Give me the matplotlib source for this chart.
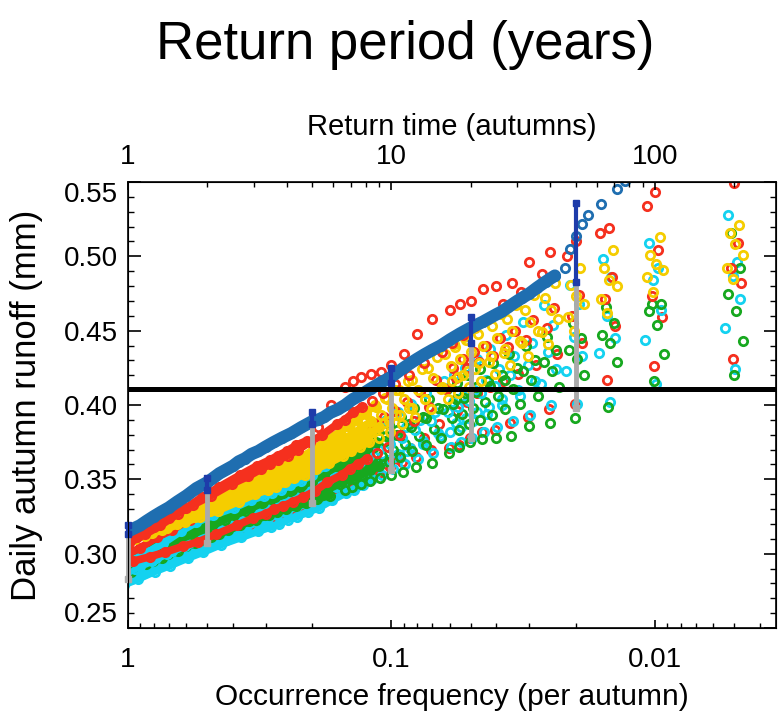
import matplotlib.pyplot as plt
import numpy as np
from matplotlib.ticker import LogLocator, NullFormatter, MultipleLocator

plt.rcParams['font.family'] = ['Liberation Sans', 'DejaVu Sans']

# ranks of the sorted autumn maxima (1 = largest), shared by the coloured runs
rank_grid = [1, 2, 3, 4, 5, 6, 7, 8, 9, 10, 11, 12, 14, 16, 18, 20, 22, 24, 26, 28, 30,
             34, 38, 42, 46, 50, 54, 58, 65, 75, 90, 105, 120, 140, 160, 185, 210]

# runoff values in 1/1000 mm, one list per run
red_runs = [
    [549, 543, 519, 510, 503, 496, 482, 480, 478, 470, 468, 464, 458, 448, 434, 427, 422, 421, 419, 416, 412, 400, 385, 376, 373, 369, 366, 363, 359, 353, 345, 338, 331, 324, 318, 311, 304],
    [565, 534, 516, 500, 488, 476, 468, 458, 453, 447, 442, 436, 428, 420, 414, 408, 403, 399, 395, 390, 387, 380, 375, 370, 366, 363, 360, 357, 352, 347, 339, 333, 327, 319, 313, 307, 301],
    [509, 504, 486, 474, 465, 457, 450, 445, 440, 436, 431, 425, 417, 409, 402, 396, 392, 388, 384, 380, 377, 372, 366, 362, 359, 356, 353, 351, 346, 341, 335, 329, 323, 316, 311, 304, 299],
    [492, 473, 471, 460, 452, 444, 439, 433, 429, 425, 418, 411, 399, 389, 380, 372, 368, 364, 360, 357, 353, 348, 342, 338, 335, 332, 330, 327, 324, 319, 313, 308, 305, 301, 298, 295, 292],
    [482, 459, 453, 442, 434, 427, 421, 416, 412, 408, 402, 396, 387, 378, 371, 364, 360, 356, 353, 350, 347, 341, 336, 333, 330, 327, 325, 323, 319, 315, 309, 305, 301, 297, 293, 289, 286],
    [431, 426, 417, 401, 397, 392, 388, 383, 382, 378, 373, 371, 370, 365, 362, 358, 354, 351, 348, 345, 342, 337, 333, 330, 327, 324, 322, 320, 317, 313, 307, 303, 299, 294, 290, 286, 283],
]
yellow_runs = [
    [521, 513, 504, 492, 482, 474, 467, 461, 457, 452, 446, 441, 432, 424, 416, 410, 405, 400, 395, 391, 387, 379, 373, 368, 365, 362, 359, 356, 352, 347, 340, 334, 330, 325, 320, 316, 311],
    [516, 501, 492, 481, 472, 464, 458, 453, 448, 444, 439, 434, 425, 417, 410, 404, 399, 394, 390, 386, 382, 376, 370, 365, 362, 359, 356, 354, 350, 344, 338, 332, 328, 323, 319, 314, 310],
    [508, 495, 484, 473, 464, 456, 450, 445, 440, 436, 431, 426, 418, 410, 404, 398, 393, 389, 385, 381, 378, 372, 366, 362, 359, 356, 354, 351, 347, 342, 336, 330, 326, 322, 318, 313, 309],
    [501, 491, 480, 468, 458, 450, 443, 438, 433, 428, 423, 419, 411, 404, 398, 393, 389, 385, 381, 377, 374, 369, 363, 359, 356, 353, 351, 348, 345, 340, 334, 329, 325, 320, 316, 312, 309],
    [492, 486, 471, 459, 449, 442, 435, 429, 424, 420, 416, 412, 404, 398, 393, 388, 384, 380, 377, 373, 370, 365, 360, 356, 353, 351, 348, 346, 342, 337, 331, 327, 323, 319, 315, 311, 308],
    [485, 476, 462, 450, 441, 433, 427, 421, 416, 412, 408, 404, 397, 392, 387, 382, 378, 375, 372, 369, 366, 361, 357, 353, 351, 348, 345, 343, 340, 335, 329, 325, 321, 317, 314, 310, 307],
]
green_runs = [
    [516, 468, 466, 455, 446, 440, 434, 428, 424, 420, 415, 411, 404, 398, 392, 387, 383, 378, 375, 371, 368, 362, 356, 352, 349, 346, 343, 341, 336, 331, 325, 319, 315, 310, 305, 301, 296],
    [492, 468, 455, 445, 437, 430, 425, 420, 416, 412, 408, 404, 398, 392, 387, 383, 379, 375, 371, 367, 364, 359, 353, 349, 346, 343, 341, 338, 334, 329, 323, 317, 313, 308, 303, 299, 294],
    [475, 463, 447, 437, 429, 423, 417, 413, 409, 405, 401, 397, 391, 385, 380, 376, 372, 368, 365, 362, 359, 354, 349, 345, 342, 340, 337, 335, 331, 326, 320, 315, 311, 306, 301, 297, 292],
    [463, 454, 442, 431, 423, 417, 411, 406, 402, 398, 394, 391, 384, 379, 374, 370, 366, 363, 360, 357, 355, 350, 346, 342, 340, 337, 335, 332, 329, 324, 318, 313, 309, 304, 299, 295, 290],
    [443, 434, 429, 420, 412, 406, 401, 397, 393, 390, 387, 383, 378, 373, 369, 365, 362, 359, 356, 353, 351, 347, 343, 339, 337, 334, 332, 330, 326, 322, 316, 311, 307, 302, 297, 293, 288],
    [420, 416, 399, 391, 388, 386, 379, 378, 377, 375, 372, 368, 361, 358, 355, 353, 351, 349, 347, 345, 343, 339, 337, 334, 332, 330, 328, 326, 323, 319, 313, 309, 305, 300, 295, 291, 286],
]
cyan_runs = [
    [528, 509, 498, 481, 467, 456, 447, 438, 431, 425, 420, 416, 408, 401, 395, 390, 385, 380, 375, 371, 367, 359, 353, 349, 346, 343, 341, 339, 336, 331, 326, 321, 315, 307, 301, 295, 289],
    [496, 492, 486, 468, 454, 442, 433, 424, 417, 410, 406, 402, 395, 390, 385, 380, 375, 371, 367, 363, 360, 354, 348, 344, 341, 338, 336, 333, 329, 324, 318, 312, 307, 302, 297, 292, 287],
    [487, 484, 460, 446, 436, 427, 420, 413, 408, 403, 399, 395, 389, 383, 378, 374, 370, 366, 362, 359, 356, 350, 345, 341, 338, 336, 333, 330, 327, 322, 316, 310, 305, 300, 295, 290, 285],
    [471, 464, 445, 433, 424, 416, 410, 404, 399, 395, 391, 388, 381, 376, 371, 367, 363, 360, 356, 353, 351, 346, 341, 337, 334, 332, 329, 327, 323, 318, 312, 307, 303, 297, 293, 288, 283],
    [452, 444, 435, 423, 414, 406, 400, 394, 389, 385, 382, 379, 374, 369, 365, 362, 358, 354, 351, 348, 345, 340, 335, 332, 329, 326, 324, 322, 319, 314, 309, 304, 300, 295, 290, 286, 281],
    [424, 414, 402, 401, 400, 393, 389, 385, 382, 378, 375, 372, 368, 364, 360, 357, 353, 350, 346, 343, 341, 336, 331, 328, 325, 323, 320, 318, 315, 311, 306, 301, 297, 292, 288, 283, 279],
]
# number of autumns in each run
red_N = [200, 186, 206, 194, 212, 198]
yellow_N = [208, 192, 201, 215, 187, 197]
green_N = [195, 210, 189, 203, 216, 199]
cyan_N = [190, 205, 197, 211, 184, 202]
# rank from which the points of a run merge into a solid band
red_band = [42, 24, 24, 24, 24, 24]
yellow_band = [24, 24, 24, 24, 24, 24]
green_band = [24, 24, 24, 24, 24, 34]
cyan_band = [24, 24, 24, 24, 24, 24]

# pooled run (blue)
blue_N = 1000
blue_ranks = [13, 14, 16, 18, 19, 20, 21, 22, 24, 26, 28, 30, 32, 34, 36, 38, 40,
              45, 50, 55, 60, 65, 70, 75, 80, 85, 90, 95, 100,
              110, 120, 130, 140, 150, 160, 170, 180, 190, 200,
              220, 240, 260, 280, 300, 320, 340, 360, 380, 400,
              450, 500, 550, 600, 650, 700, 750, 800, 850, 900, 950, 1000]
blue_vals = [551, 545, 535, 528, 522, 514, 505, 492, 487, 483, 479, 475, 472, 469, 466, 463, 461,
             456, 452, 448, 444, 440, 437, 434, 431, 428, 425, 422, 419,
             415, 411, 407, 404, 400, 397, 395, 392, 390, 389,
             385, 381, 378, 375, 372, 369, 367, 364, 362, 359,
             354, 348, 344, 339, 335, 331, 328, 325, 322, 319, 317, 315]

# uncertainty bars
bar_freq = [1, 0.5, 0.2, 0.1, 0.05, 0.02]
bar_blue_top = [0.319, 0.351, 0.395, 0.425, 0.459, 0.536]
bar_blue_bot = [0.313, 0.343, 0.387, 0.415, 0.442, 0.483]
bar_grey_bot = [0.283, 0.307, 0.334, 0.356, 0.378, 0.398]

threshold = 0.411

groups = {
    'red': (red_runs, red_N, red_band, '#f5301e'),
    'yellow': (yellow_runs, yellow_N, yellow_band, '#f5cd00'),
    'green': (green_runs, green_N, green_band, '#17a81f'),
    'cyan': (cyan_runs, cyan_N, cyan_band, '#14d2f0'),
}
# drawing order of the runs (later ones lie on top)
draw_order = [('red', 5), ('red', 4), ('cyan', 5), ('cyan', 4), ('cyan', 3),
              ('green', 5), ('green', 4), ('green', 3), ('cyan', 2), ('cyan', 1),
              ('green', 2), ('green', 1), ('green', 0), ('cyan', 0),
              ('red', 3), ('red', 2),
              ('yellow', 5), ('yellow', 4), ('yellow', 3), ('yellow', 2), ('yellow', 1), ('yellow', 0),
              ('red', 1), ('red', 0)]

fig = plt.figure(figsize=(7.78, 7.18), dpi=100)
ax = fig.add_axes([0.1645, 0.1253, 0.8329, 0.6212])

xmin = 0.003475
ax.set_xscale('log')
ax.set_xlim(1, xmin)
ax.set_ylim(0.25, 0.55)

r = np.array(rank_grid)
for name, i in draw_order:
    runs, sizes, band, color = groups[name]
    f = r / sizes[i]
    v = np.array(runs[i]) / 1000.0
    body = r >= band[i]
    ax.plot(f[body], v[body], color=color, lw=5.5, solid_capstyle='round')
    ax.plot(f, v, 'o', ms=6, mew=2.0, mfc='none', mec=color)

bf = np.array(blue_ranks) / blue_N
bv = np.array(blue_vals) / 1000.0
ax.plot(bf[bf >= 0.024], bv[bf >= 0.024], color='#1f6eb0', lw=9, solid_capstyle='round')
ax.plot(bf, bv, 'o', ms=6, mew=2.0, mfc='none', mec='#1f6eb0')

for f, t, m, b in zip(bar_freq, bar_blue_top, bar_blue_bot, bar_grey_bot):
    ax.plot([f, f], [m, b], color='#aaaaaa', lw=3.5, solid_capstyle='butt', clip_on=False, zorder=5)
    ax.plot([f], [b], 's', color='#aaaaaa', ms=5, clip_on=False, zorder=5)
    ax.plot([f, f], [t, m], color='#1e3caa', lw=3, solid_capstyle='butt', clip_on=False, zorder=6)
    ax.plot([f, f], [t, m], 's', color='#1e3caa', ms=5, clip_on=False, zorder=6)

ax.axhline(threshold, color='black', lw=3.6, zorder=7)

# axes styling
for sp in ax.spines.values():
    sp.set_linewidth(1.2)
ax.set_xticks([1, 0.1, 0.01], ['1', '0.1', '0.01'])
ax.xaxis.set_minor_locator(LogLocator(base=10, subs=np.arange(2, 10)))
ax.xaxis.set_minor_formatter(NullFormatter())
ax.set_yticks([0.25, 0.30, 0.35, 0.40, 0.45, 0.50, 0.55],
              ['0.25', '0.30', '0.35', '0.40', '0.45', '0.50', '0.55'])
ax.yaxis.set_minor_locator(MultipleLocator(0.01))
ax.tick_params(axis='y', which='major', direction='in', length=9, width=1.2,
               left=True, right=True, labelsize=20, pad=7)
ax.tick_params(axis='y', which='minor', direction='in', length=4.5, width=1.0,
               left=True, right=True)
ax.tick_params(axis='x', which='major', direction='in', length=6, width=1.2,
               top=False, labelsize=20, pad=14)
ax.tick_params(axis='x', which='minor', direction='in', length=3.5, width=1.0, top=False)
ylabs = ax.get_yticklabels()
ylabs[0].set_verticalalignment('bottom')
ylabs[-1].set_verticalalignment('top')

ax.set_xlabel('Occurrence frequency (per autumn)', fontsize=21.5)
ax.xaxis.set_label_coords(0.5, -0.123)
ax.set_ylabel('Daily autumn runoff (mm)', fontsize=25)
ax.yaxis.set_label_coords(-0.131, 0.5)

ax2 = ax.twiny()
ax2.set_xscale('log')
ax2.set_xlim(1, 1 / xmin)
ax2.set_xticks([1, 10, 100], ['1', '10', '100'])
ax2.xaxis.set_minor_locator(LogLocator(base=10, subs=np.arange(2, 10)))
ax2.xaxis.set_minor_formatter(NullFormatter())
ax2.tick_params(axis='x', which='major', direction='in', length=6, width=1.2,
                labelsize=20, pad=9)
ax2.tick_params(axis='x', which='minor', direction='in', length=3.5, width=1.0)
ax2.set_xlabel('Return time (autumns)', fontsize=21)
ax2.xaxis.set_label_coords(0.5, 1.106)

fig.text(405 / 778, 1 - 45 / 718, 'Return period (years)', ha='center', va='center', fontsize=38)

fig.savefig('out.png', dpi=100)
